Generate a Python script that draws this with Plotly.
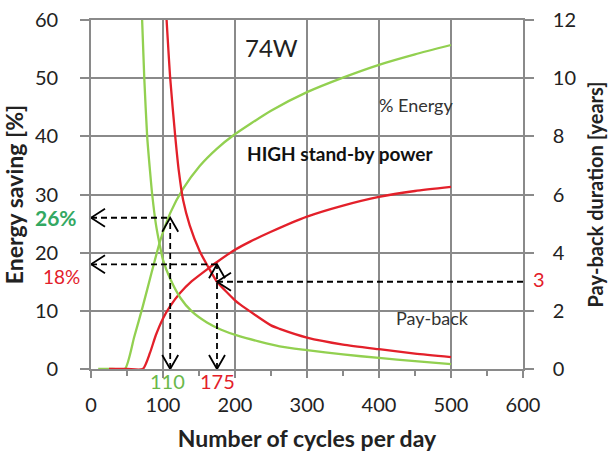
import plotly.graph_objects as go

# ---------------- data ----------------
# Energy saving [%] (left axis)
green_energy_x = [10, 30, 47, 60, 72, 84, 96, 110, 128, 151, 175, 197, 250, 300, 350, 400, 450, 500]
green_energy_y = [0, 0, 0, 5.5, 10.8, 16.5, 22, 26.8, 31.0, 34.9, 37.9, 40.1, 44.4, 47.6, 50.1, 52.3, 54.1, 55.7]

red_energy_x = [25, 50, 72, 82, 90, 100, 110, 124, 140, 163, 175, 200, 221, 250, 300, 350, 400, 450, 500]
red_energy_y = [0, 0, 0, 2.8, 5.8, 8.7, 10.8, 13.1, 15.1, 17.3, 18.4, 20.5, 21.9, 23.6, 26.2, 28.1, 29.6, 30.6, 31.3]

# Pay-back duration [years] (right axis)
green_pb_x = [71, 74, 78, 82, 85, 90, 96, 100, 110, 124, 140, 161, 180, 207, 262, 300, 350, 400, 450, 500]
green_pb_y = [12, 10, 8, 6.8, 6.0, 5.0, 4.2, 3.75, 3.1, 2.45, 1.98, 1.6, 1.36, 1.12, 0.78, 0.65, 0.5, 0.38, 0.27, 0.17]

red_pb_x = [105, 110, 117, 122, 128, 137, 151, 163, 175, 200, 207, 250, 262, 300, 350, 400, 450, 500]
red_pb_y = [12, 10, 8, 6.8, 5.8, 4.95, 4.05, 3.5, 3.0, 2.36, 2.22, 1.5, 1.38, 1.08, 0.84, 0.68, 0.53, 0.41]

# read-off points
green_cycles, green_saving = 110, 26
red_cycles, red_saving = 175, 18
red_payback = 3

x_ticks = [0, 100, 200, 300, 400, 500, 600]
y_ticks = [0, 10, 20, 30, 40, 50, 60]
y2_ticks = [0, 2, 4, 6, 8, 10, 12]

# ---------------- style ----------------
GREEN = "#92d050"
RED = "#e3202a"
GRID = "#8a8a8a"
FONT = "Lato"
TXT = "#222222"

fig = go.Figure()
LW = 2.3
fig.add_trace(go.Scatter(x=green_energy_x, y=green_energy_y, mode="lines",
                         line=dict(color=GREEN, width=LW, shape="spline", smoothing=0.6),
                         yaxis="y", showlegend=False))
fig.add_trace(go.Scatter(x=red_energy_x, y=red_energy_y, mode="lines",
                         line=dict(color=RED, width=LW, shape="spline", smoothing=0.6),
                         yaxis="y", showlegend=False))
fig.add_trace(go.Scatter(x=green_pb_x, y=green_pb_y, mode="lines",
                         line=dict(color=GREEN, width=LW, shape="spline", smoothing=0.6),
                         yaxis="y2", showlegend=False))
fig.add_trace(go.Scatter(x=red_pb_x, y=red_pb_y, mode="lines",
                         line=dict(color=RED, width=LW, shape="spline", smoothing=0.6),
                         yaxis="y2", showlegend=False))

DASH = dict(color="black", width=1.8, dash="6px,4px")
shapes = []
# dashed guides
shapes.append(dict(type="line", xref="x", yref="y", x0=0, x1=green_cycles, y0=green_saving, y1=green_saving, line=DASH))
shapes.append(dict(type="line", xref="x", yref="y", x0=green_cycles, x1=green_cycles, y0=0, y1=green_saving, line=DASH))
shapes.append(dict(type="line", xref="x", yref="y", x0=0, x1=red_cycles, y0=red_saving, y1=red_saving, line=DASH))
shapes.append(dict(type="line", xref="x", yref="y", x0=red_cycles, x1=red_cycles, y0=0, y1=red_saving, line=DASH))
shapes.append(dict(type="line", xref="x", yref="y2", x0=red_cycles, x1=600, y0=red_payback, y1=red_payback, line=DASH))

HEAD = dict(color="black", width=1.8)


def chevron(xa, ya, direction, yref="y"):
    if direction == "left":
        p = "M 14 9 L 0 0 L 14 -9"
    elif direction == "down":
        p = "M -8 14 L 0 0 L 8 14"
    else:  # up
        p = "M -8 -14 L 0 0 L 8 -14"
    return dict(type="path", xref="x", yref=yref, xsizemode="pixel", ysizemode="pixel",
                xanchor=xa, yanchor=ya, path=p, line=HEAD)


shapes += [
    chevron(0, green_saving, "left"),
    chevron(green_cycles, 0, "down"),
    chevron(green_cycles, green_saving, "up"),
    chevron(0, red_saving, "left"),
    chevron(red_cycles, 0, "down"),
    chevron(red_cycles, red_saving, "up"),
    chevron(red_cycles, red_payback, "left", yref="y2"),
]

annotations = [
    dict(x=251, y=55.2, xref="x", yref="y", text="74W", showarrow=False,
         font=dict(family=FONT, size=24, color=TXT)),
    dict(x=451, y=45.4, xref="x", yref="y", text="% Energy", showarrow=False,
         font=dict(family=FONT, size=18, color="#333333")),
    dict(x=346, y=37.1, xref="x", yref="y", text="<b>HIGH stand-by power</b>", showarrow=False,
         font=dict(family=FONT, size=19, color="#111111")),
    dict(x=474, y=1.76, xref="x", yref="y2", text="Pay-back", showarrow=False,
         font=dict(family=FONT, size=18, color="#333333")),
    dict(x=0, y=green_saving, xref="x", yref="y", xshift=-35, yshift=0,
         text=f"<b>{green_saving}%</b>", showarrow=False,
         font=dict(family=FONT, size=21, color="#33a862")),
    dict(x=0, y=red_saving, xref="x", yref="y", xshift=-30, yshift=-12,
         text=f"{red_saving}%", showarrow=False,
         font=dict(family=FONT, size=19, color=RED)),
    dict(x=600, y=red_payback, xref="x", yref="y2", xshift=16, yshift=3,
         text=f"{red_payback}", showarrow=False,
         font=dict(family=FONT, size=20, color=RED)),
    dict(x=green_cycles, y=0, xref="x", yref="y", xshift=-3, yshift=-12,
         text=f"{green_cycles}", showarrow=False,
         font=dict(family=FONT, size=20, color="#6ab84a")),
    dict(x=red_cycles, y=0, xref="x", yref="y", xshift=0, yshift=-12,
         text=f"{red_cycles}", showarrow=False,
         font=dict(family=FONT, size=20, color=RED)),
]

fig.update_layout(
    width=610, height=458,
    margin=dict(l=91, r=87, t=20, b=89),
    paper_bgcolor="white", plot_bgcolor="white",
    font=dict(family=FONT, size=20, color=TXT),
    shapes=shapes, annotations=annotations,
    xaxis=dict(range=[0, 600], tickvals=x_ticks, showgrid=True, gridcolor=GRID, gridwidth=1.6,
               showline=True, linecolor=GRID, linewidth=1.6, mirror=True,
               ticks="outside", ticklen=7, tickcolor=GRID, tickwidth=1.6,
               minor=dict(dtick=50, ticks="outside", ticklen=5, tickcolor=GRID, showgrid=False),
               ticklabelstandoff=10, zeroline=False, automargin=False,
               tickfont=dict(size=20),
               title=dict(text="<b>Number of cycles per day</b>", font=dict(size=23), standoff=16)),
    yaxis=dict(range=[0, 60], tickvals=y_ticks, showgrid=True, gridcolor=GRID, gridwidth=1.6,
               showline=True, linecolor=GRID, linewidth=1.6,
               ticks="outside", ticklen=9, tickcolor=GRID, tickwidth=1.6,
               ticklabelstandoff=18, zeroline=False, automargin=False,
               tickfont=dict(size=20),
               title=dict(text="<b>Energy saving [%]</b>", font=dict(size=23), standoff=8)),
    yaxis2=dict(range=[0, 12], tickvals=y2_ticks, overlaying="y", side="right", showgrid=False,
                showline=True, linecolor=GRID, linewidth=1.6,
                ticks="outside", ticklen=9, tickcolor=GRID, tickwidth=1.6,
                ticklabelstandoff=15, zeroline=False, automargin=False,
                tickfont=dict(size=20),
                title=dict(text="<b>Pay-back duration [years]</b>", font=dict(size=20), standoff=14)),
)

fig.write_html("out.html")
